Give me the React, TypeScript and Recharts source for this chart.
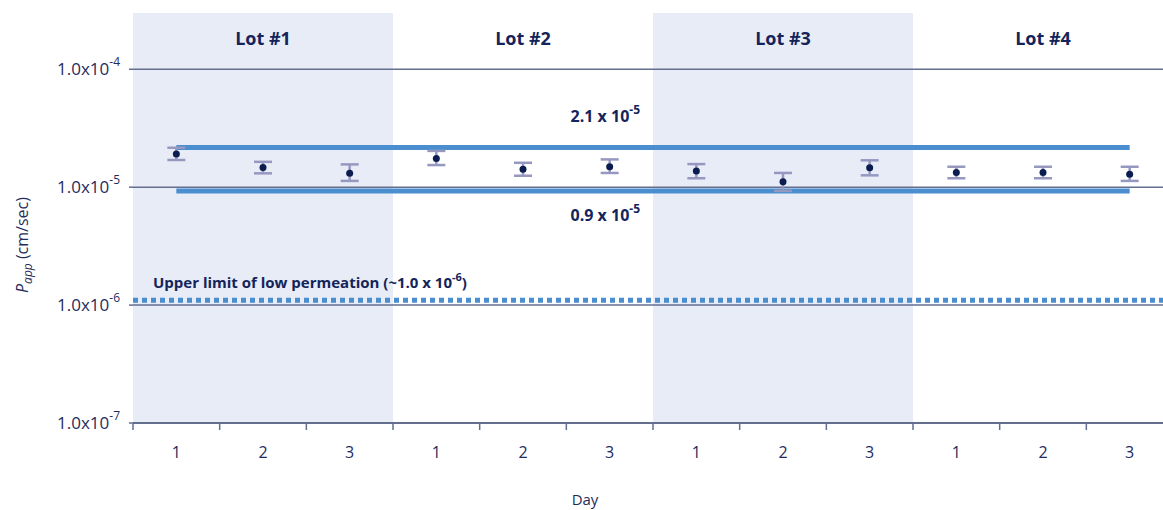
import React from 'react';
import {
  ComposedChart,
  Line,
  XAxis,
  YAxis,
  ReferenceArea,
  ReferenceLine,
  ErrorBar,
} from 'recharts';

// ---------- data ----------
const lotNames = ['Lot #1', 'Lot #2', 'Lot #3', 'Lot #4'];
const shadedLots = [true, false, true, false];
const categoryIds = ['L1D1', 'L1D2', 'L1D3', 'L2D1', 'L2D2', 'L2D3', 'L3D1', 'L3D2', 'L3D3', 'L4D1', 'L4D2', 'L4D3'];
const dayLabels = ['1', '2', '3', '1', '2', '3', '1', '2', '3', '1', '2', '3'];
const pappMean = [1.91e-5, 1.47e-5, 1.31e-5, 1.75e-5, 1.42e-5, 1.49e-5, 1.37e-5, 1.11e-5, 1.46e-5, 1.33e-5, 1.33e-5, 1.29e-5];
const pappLow = [1.7e-5, 1.31e-5, 1.13e-5, 1.54e-5, 1.25e-5, 1.32e-5, 1.19e-5, 0.93e-5, 1.26e-5, 1.19e-5, 1.19e-5, 1.13e-5];
const pappHigh = [2.16e-5, 1.64e-5, 1.56e-5, 2.03e-5, 1.61e-5, 1.72e-5, 1.57e-5, 1.32e-5, 1.69e-5, 1.49e-5, 1.49e-5, 1.49e-5];
const rangeUpper = 2.17e-5;
const rangeLower = 0.93e-5;
const lowPermLimit = 1.1e-6;
const yTicks = [1e-7, 1e-6, 1e-5, 1e-4];
const yTickExponents = ['-7', '-6', '-5', '-4'];
const yDomain = [1e-7, 3e-4];

const data = categoryIds.map((id, i) => ({
  id,
  day: dayLabels[i],
  mean: pappMean[i],
  err: [pappMean[i] - pappLow[i], pappHigh[i] - pappMean[i]],
}));

// ---------- styles ----------
const FONT = "'Open Sans', sans-serif";
const NAVY = '#14245a';
const TEXT = '#1f2c5c';
const BAND = '#e8ecf7';
const BLUE = '#4a8ecf';
const GRID = '#646f90';
const ERR = '#9698c0';

const YTick = (props: any) => {
  const { x, y, index } = props;
  return (
    <text x={x - 7} y={y + 6} textAnchor="end" fontFamily={FONT} fontSize={17} fill={TEXT}>
      1.0x10
      <tspan dy={-9} fontSize={12}>{yTickExponents[index]}</tspan>
    </text>
  );
};

const DayTick = (props: any) => {
  const { x, y, payload, index, width } = props;
  const off = payload && payload.offset ? payload.offset : width / (2 * categoryIds.length);
  return (
    <g>
      <line x1={x - off} x2={x - off} y1={y} y2={y + 7} stroke={GRID} strokeWidth={1.5} />
      <text x={x} y={y + 35} textAnchor="middle" fontFamily={FONT} fontSize={16} fill={TEXT}>
        {dayLabels[index]}
      </text>
    </g>
  );
};

const YLabel = (props: any) => {
  const vb = props.viewBox || {};
  const cx = 28;
  const cy = vb.y + vb.height / 2 + 27;
  return (
    <text
      x={cx}
      y={cy}
      transform={`rotate(-90, ${cx}, ${cy})`}
      textAnchor="middle"
      fontFamily={FONT}
      fontSize={16}
      fill={TEXT}
    >
      <tspan fontStyle="italic">P</tspan>
      <tspan fontStyle="italic" fontSize={12} dy={4}>app</tspan>
      <tspan dy={-4}> (cm/sec)</tspan>
    </text>
  );
};

const XLabel = (props: any) => {
  const vb = props.viewBox || {};
  return (
    <text x={585} y={vb.y + vb.height - 5} textAnchor="middle" fontFamily={FONT} fontSize={15} fill={TEXT}>
      Day
    </text>
  );
};

const RangeLabel = (text: string, exp: string, dyOff: number) => (props: any) => {
  const vb = props.viewBox || {};
  return (
    <text
      x={vb.x + vb.width * 0.45}
      y={vb.y + dyOff}
      textAnchor="middle"
      fontFamily={FONT}
      fontWeight="bold"
      fontSize={16}
      fill={NAVY}
    >
      {text}
      <tspan dy={-8} fontSize={12}>{exp}</tspan>
    </text>
  );
};

const LimitLabel = (props: any) => {
  const vb = props.viewBox || {};
  return (
    <text x={vb.x + 20} y={vb.y - 12} textAnchor="start" fontFamily={FONT} fontWeight="bold" fontSize={15} fill={NAVY}>
      Upper limit of low permeation (~1.0 x 10
      <tspan dy={-7} fontSize={11}>-6</tspan>
      <tspan dy={7}>)</tspan>
    </text>
  );
};

const LotLabel = (name: string) => (props: any) => {
  const vb = props.viewBox || {};
  return (
    <text x={vb.x + vb.width / 2} y={vb.y + 32} textAnchor="middle" fontFamily={FONT} fontWeight="bold" fontSize={18} fill={NAVY}>
      {name}
    </text>
  );
};

export default function App() {
  return (
    <div style={{ position: 'absolute', left: 0, top: 0, width: 1163, height: 510, overflow: 'hidden', background: '#fff' }}>
      <ComposedChart
        width={1180}
        height={510}
        data={data}
        margin={{ top: 13, right: 7, bottom: 0, left: 0 }}
      >
        <XAxis
          dataKey="id"
          type="category"
          scale="band"
          height={87}
          axisLine={{ stroke: GRID, strokeWidth: 2 }}
          tickLine={false}
          tickSize={0}
          tickMargin={0}
          interval={0}
          tick={<DayTick />}
          label={<XLabel />}
        />
        <YAxis
          scale="log"
          type="number"
          domain={yDomain}
          ticks={yTicks}
          allowDataOverflow
          width={133}
          axisLine={false}
          tickLine={{ stroke: GRID, strokeWidth: 1.5 }}
          tickSize={4}
          tickMargin={2}
          interval={0}
          tick={<YTick />}
          label={<YLabel />}
        />
        {lotNames.map((name, i) => (
          <ReferenceArea
            key={name}
            x1={categoryIds[i * 3]}
            x2={categoryIds[i * 3 + 2]}
            fill={BAND}
            fillOpacity={shadedLots[i] ? 1 : 0}
            stroke="none"
            ifOverflow="visible"
            label={LotLabel(name)}
          />
        ))}
        {yTicks.slice(1).map((t) => (
          <ReferenceLine key={t} y={t} stroke={GRID} strokeWidth={1.5} />
        ))}
        <ReferenceLine
          segment={[{ x: categoryIds[0], y: rangeUpper }, { x: categoryIds[categoryIds.length - 1], y: rangeUpper }]}
          stroke={BLUE}
          strokeWidth={5}
          label={RangeLabel('2.1 x 10', '-5', -25)}
        />
        <ReferenceLine
          segment={[{ x: categoryIds[0], y: rangeLower }, { x: categoryIds[categoryIds.length - 1], y: rangeLower }]}
          stroke={BLUE}
          strokeWidth={5}
          label={RangeLabel('0.9 x 10', '-5', 30)}
        />
        <ReferenceLine
          y={lowPermLimit}
          stroke={BLUE}
          strokeWidth={5}
          strokeDasharray="5 4"
          label={<LimitLabel />}
        />
        <Line
          dataKey="mean"
          stroke="none"
          isAnimationActive={false}
          dot={{ r: 3.5, fill: '#0b1d4f', stroke: 'none' }}
          activeDot={false}
          legendType="none"
        >
          <ErrorBar dataKey="err" direction="y" width={9} stroke={ERR} strokeWidth={2.5} isAnimationActive={false} />
        </Line>
      </ComposedChart>
    </div>
  );
}
